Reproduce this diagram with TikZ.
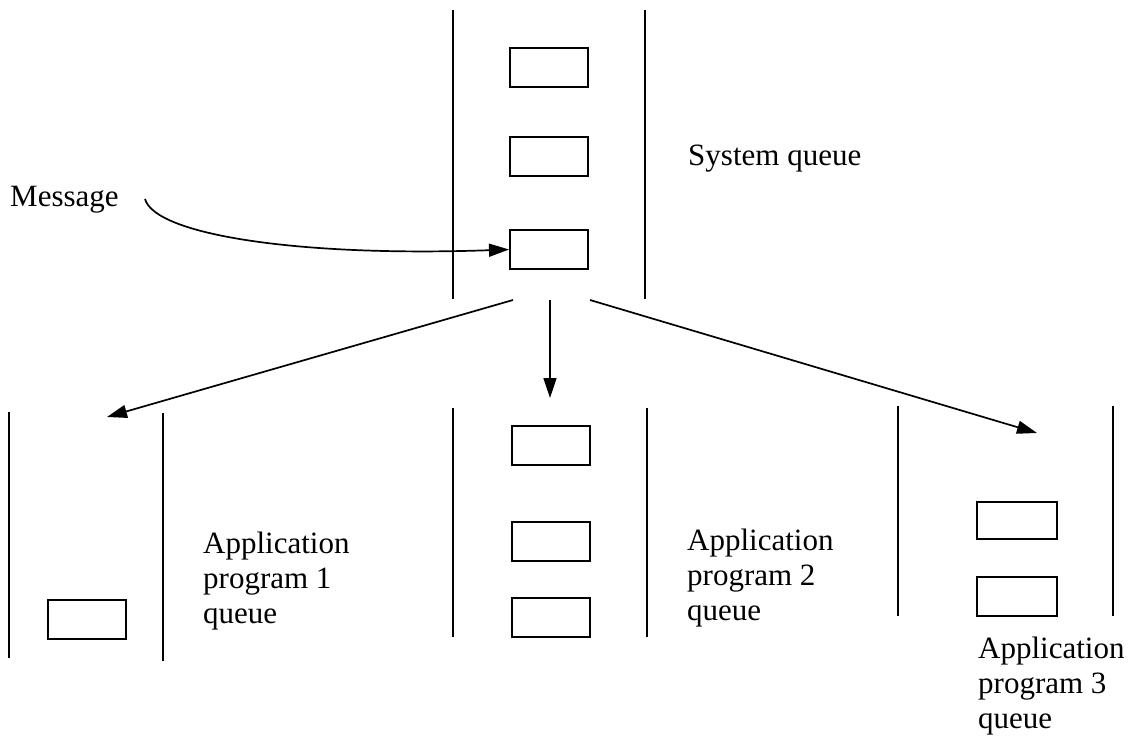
\documentclass[tikz,border=0pt]{standalone}
\usepackage{fontspec}
\setmainfont{Liberation Serif}
\usetikzlibrary{arrows.meta}
\begin{document}
\begin{tikzpicture}[x=1pt,y=-1pt,
  wall/.style={line width=2.2pt},
  msgbox/.style={draw,line width=2pt,rectangle,inner sep=0pt,
                 minimum width=78pt,minimum height=39pt},
  flow/.style={line width=1.7pt,-{Triangle[length=20pt,width=13pt]}},
  lbl/.style={inner sep=0pt,font=\fontsize{31}{35}\selectfont},
  multilbl/.style={lbl,align=left,anchor=north west}]
\useasboundingbox (0,0) rectangle (1133,741);

% system queue walls and messages
\draw[wall] (453,10) -- (453,299);
\draw[wall] (645,10) -- (645,299);
\node[msgbox] (s1) at (549,67.5) {};
\node[msgbox] (s2) at (549,157) {};
\node[msgbox] (s3) at (549,249.5) {};
\node[lbl,anchor=base west] (sysq) at (688,165) {System queue};

% incoming message
\node[lbl,anchor=base west] (msg) at (10,206) {Message};
\coordinate (msgstart) at (145,199);
\draw[flow] (msgstart) .. controls (155,235) and (300,257) .. (s3.west);

% distribution to the application queues
\coordinate (fork) at (550,300);
\coordinate (forkl) at (513,300);
\coordinate (forkr) at (590,300);
\coordinate (in1) at (107,417);
\coordinate (in2) at (550,398);
\coordinate (in3) at (1037,433);
\draw[flow] (forkl) -- (in1);
\draw[flow] (fork) -- (in2);
\draw[flow] (forkr) -- (in3);

% application program 1 queue
\draw[wall] (9,412) -- (9,658);
\draw[wall] (163,413) -- (163,661);
\node[msgbox] (a1) at (87,619) {};
\node[multilbl] (q1) at (203,532) {Application\\program 1\\queue};

% application program 2 queue
\draw[wall] (453,408) -- (453,637);
\draw[wall] (647,408) -- (647,637);
\node[msgbox] (b1) at (551,445) {};
\node[msgbox] (b2) at (551,541.5) {};
\node[msgbox] (b3) at (551,617) {};
\node[multilbl] (q2) at (687,529) {Application\\program 2\\queue};

% application program 3 queue
\draw[wall] (898,406) -- (898,616);
\draw[wall] (1113,406) -- (1113,616);
\node[msgbox,minimum width=80pt,minimum height=37pt] (c1) at (1017,520.5) {};
\node[msgbox,minimum width=80pt,minimum height=39pt] (c2) at (1017,596.5) {};
\node[multilbl] (q3) at (978,637) {Application\\program 3\\queue};
\end{tikzpicture}
\end{document}
